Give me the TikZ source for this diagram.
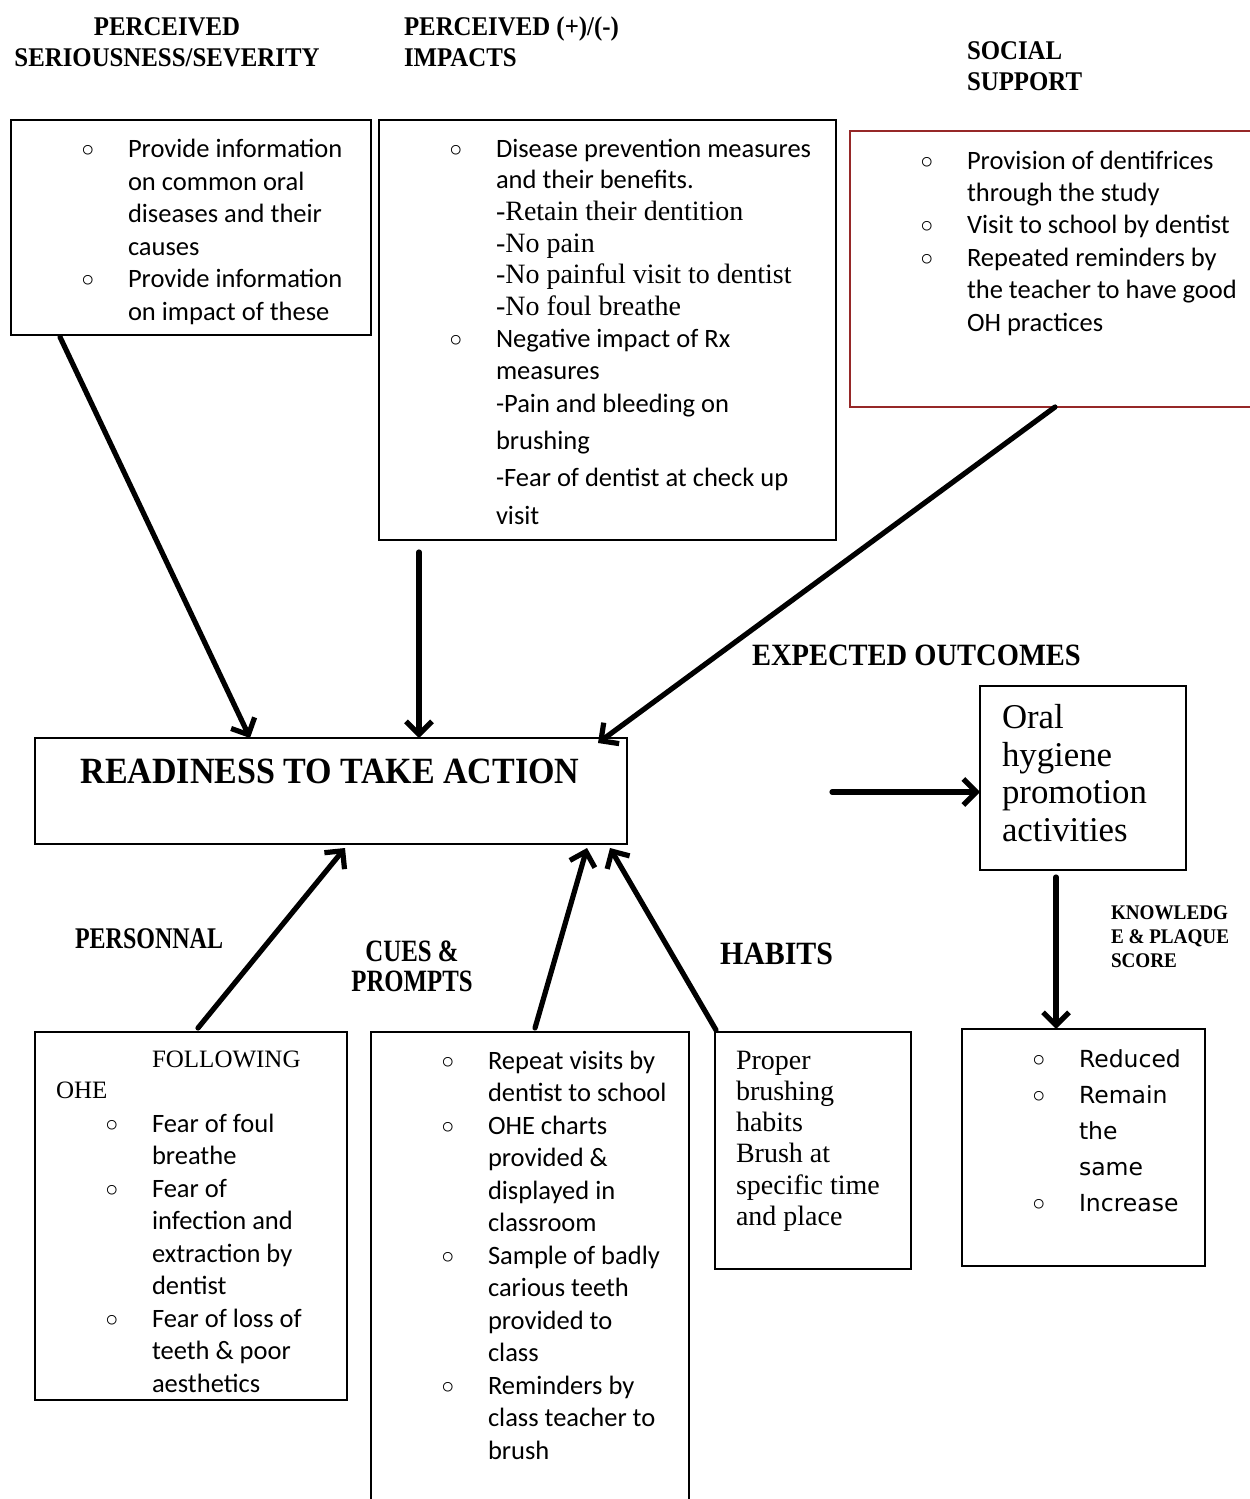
\documentclass[tikz,border=0pt]{standalone}
\usepackage{fontspec}
\setmainfont{Liberation Serif}
\newfontfamily\calib{Carlito}
\newfontfamily\hdf{Liberation Serif}[FakeStretch=0.92]
\newfontfamily\cond{Liberation Serif}[FakeStretch=0.8]
\newfontfamily\dvs{DejaVu Sans}
\usetikzlibrary{arrows.meta}
\newcommand\bul{\llap{\makebox[0pt][c]{\raisebox{-5pt}{\dvs\fontsize{33}{33}\selectfont ◦}}\hskip 40pt}}
\definecolor{boxred}{RGB}{150,40,40}
\begin{document}
\begin{tikzpicture}[x=1pt,y=-1pt,
  box/.style={draw, line width=1.8pt, inner sep=0pt, outer sep=0pt, anchor=north west},
  arr/.style={line width=5.2pt, line cap=round, line join=round, -{Straight Barb[length=13pt,width=26pt]}},
  txt/.style={inner sep=0pt, outer sep=0pt, anchor=base west, align=left},
  cal/.style={font=\calib\fontsize{26.5}{32.5}\selectfont},
  hd/.style={font=\hdf\bfseries\fontsize{27}{31}\selectfont}]
\useasboundingbox (0,0) rectangle (1250,1499);

% headings (anchor = baseline of last line)
\node[txt, hd, anchor=base, align=center] (h1) at (167,66) {PERCEIVED\\SERIOUSNESS/SEVERITY};
\node[txt, hd] (h2) at (404,66) {PERCEIVED (+)/(-)\\IMPACTS};
\node[txt, hd] (h3) at (967,90) {SOCIAL\\SUPPORT};

% boxes
\node[box, minimum width=360pt, minimum height=215pt] (b1) at (11,120) {};
\node[box, minimum width=457pt, minimum height=420pt] (b2) at (379,120) {};
\node[box, draw=boxred, minimum width=460pt, minimum height=276pt] (b3) at (850,131) {};
\node[box, minimum width=592pt, minimum height=106pt] (ready) at (35,738) {};
\node[box, minimum width=206pt, minimum height=184pt] (oral) at (980,686) {};
\node[box, minimum width=243pt, minimum height=237pt] (outc) at (962,1029) {};
\node[box, minimum width=312pt, minimum height=368pt] (pers) at (35,1032) {};
\node[box, minimum width=318pt, minimum height=520pt] (cues) at (371,1032) {};
\node[box, minimum width=196pt, minimum height=237pt] (habits) at (715,1032) {};

% box 1 text
\node[txt, cal] (t1) at (128,320) {\bul Provide information\\on common oral\\diseases and their\\causes\\\bul Provide information\\on impact of these};

% box 2 text
\node[txt, font=\fontsize{26.5}{31.7}\selectfont] (t2a) at (496,379) {%
{\calib\bul Disease prevention measures}\\
{\calib and their benefits.}\\
{\fontsize{28}{31.7}\selectfont -Retain their dentition}\\
{\fontsize{28}{31.7}\selectfont -No pain}\\
{\fontsize{28}{31.7}\selectfont -No painful visit to dentist}\\
{\fontsize{28}{31.7}\selectfont -No foul breathe}\\
{\calib\bul Negative impact of Rx}\\
{\calib measures}};
\node[txt, font=\calib\fontsize{26.5}{37.3}\selectfont] (t2b) at (496,524) {-Pain and bleeding on\\brushing\\-Fear of dentist at check up\\visit};

% box 3 text
\node[txt, font=\calib\fontsize{26.5}{32.4}\selectfont] (t3) at (967,331) {\bul Provision of dentifrices\\through the study\\\bul Visit to school by dentist\\\bul Repeated reminders by\\the teacher to have good\\OH practices};

% readiness
\node[txt, anchor=base, font=\hdf\bfseries\fontsize{37}{40}\selectfont] (tr) at (330,783) {READINESS TO TAKE ACTION};

% expected outcomes
\node[txt, font=\hdf\bfseries\fontsize{31}{35}\selectfont] (te) at (752,665) {EXPECTED OUTCOMES};
\node[txt, font=\fontsize{34.8}{37.5}\selectfont] (to) at (1002,841) {Oral\\hygiene\\promotion\\activities};
\node[txt, font=\hdf\bfseries\fontsize{20.8}{24}\selectfont] (tk) at (1111,967) {KNOWLEDG\\E \& PLAQUE\\SCORE};
\node[txt, font=\dvs\fontsize{23.5}{35.8}\selectfont] (tu) at (1079,1211) {\bul Reduced\\\bul Remain\\the\\same\\\bul Increase};

% lower labels
\node[txt, font=\cond\bfseries\fontsize{30}{30}\selectfont] (lp) at (75,948) {PERSONNAL};
\node[txt, anchor=base, align=center, font=\cond\bfseries\fontsize{31}{30}\selectfont] (lc) at (412,991) {CUES \&\\PROMPTS};
\node[txt, font=\hdf\bfseries\fontsize{32.5}{35}\selectfont] (lh) at (720,964) {HABITS};

% personal box text
\node[txt, font=\fontsize{25}{31}\selectfont] (tf) at (152,1067) {FOLLOWING};
\node[txt, font=\fontsize{25}{31}\selectfont] (tohe) at (56,1098) {OHE};
\node[txt, cal] (tp) at (152,1392) {\bul Fear of foul\\breathe\\\bul Fear of\\infection and\\extraction by\\dentist\\\bul Fear of loss of\\teeth \& poor\\aesthetics};

% cues box text
\node[txt, cal] (tc) at (488,1459) {\bul Repeat visits by\\dentist to school\\\bul OHE charts\\provided \&\\displayed in\\classroom\\\bul Sample of badly\\carious teeth\\provided to\\class\\\bul Reminders by\\class teacher to\\brush};

% habits box text
\node[txt, font=\fontsize{28}{31.3}\selectfont] (th) at (736,1225.5) {Proper\\brushing\\habits\\Brush at\\specific time\\and place};

% arrows
\draw[arr] ([xshift=49pt,yshift=-2pt]b1.south west) -- ([xshift=215pt]ready.north west);
\draw[arr] ([xshift=40pt,yshift=-12pt]b2.south west) -- ([xshift=384pt]ready.north west);
\draw[arr] ([xshift=205pt]b3.south west) -- ([xshift=563pt,yshift=-5pt]ready.north west);
\draw[arr] ([xshift=205pt,yshift=-1pt]ready.east) -- ([yshift=-14pt]oral.west);
\draw[arr] ([xshift=-27pt,yshift=-7pt]oral.south) -- ([xshift=-27.5pt]outc.north);
\draw[arr] ([xshift=163pt,yshift=4pt]pers.north west) -- ([xshift=310pt,yshift=-4pt]ready.south west);
\draw[arr] ([xshift=164pt,yshift=4pt]cues.north west) -- ([xshift=552pt,yshift=-4pt]ready.south west);
\draw[arr] ([xshift=1pt,yshift=2pt]habits.north west) -- ([xshift=575pt,yshift=-4pt]ready.south west);
\end{tikzpicture}
\end{document}
